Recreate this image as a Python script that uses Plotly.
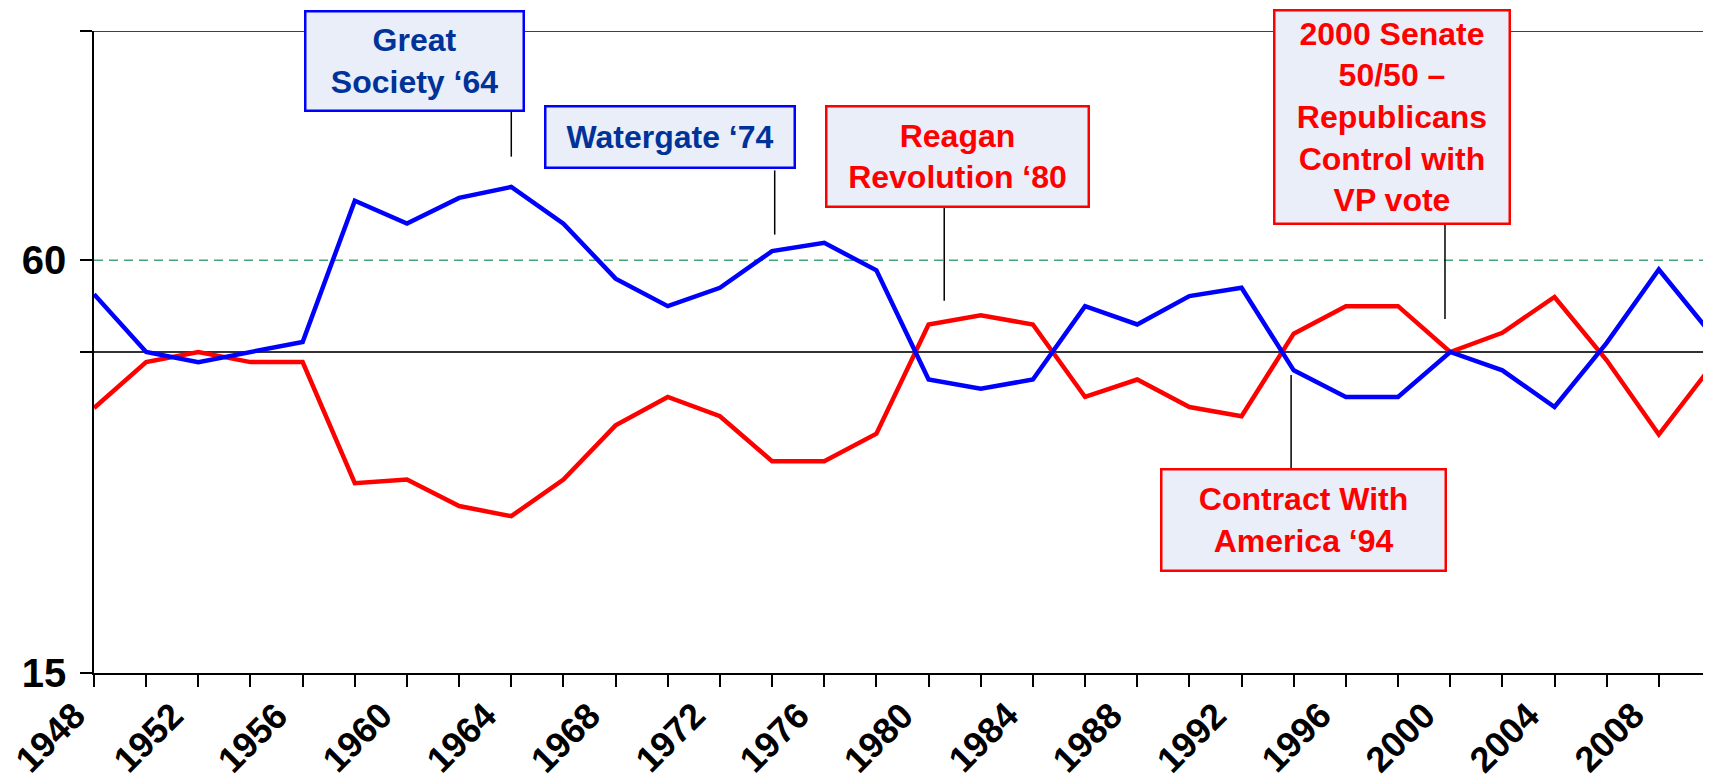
import plotly.graph_objects as go

# ---- data (Senate seat share, %) ----
years = list(range(1948, 2011, 2))
dem = [56.3, 50.0, 48.9, 50.0, 51.1, 66.5, 64.0, 66.8, 68.0, 64.0,
       58.0, 55.0, 57.0, 61.0, 61.9, 58.9, 47.0, 46.0, 47.0, 55.0,
       53.0, 56.1, 57.0, 48.0, 45.1, 45.1, 50.0, 48.0, 44.0, 51.0,
       59.0, 52.0]
rep = [43.9, 48.9, 50.0, 48.9, 48.9, 35.7, 36.1, 33.2, 32.1, 36.1,
       42.0, 45.1, 43.0, 38.1, 38.1, 41.1, 53.0, 54.0, 53.0, 45.1,
       47.0, 44.0, 43.0, 52.0, 55.0, 55.0, 50.0, 52.1, 56.0, 49.1,
       41.0, 48.4]

x_tick_vals = list(range(1948, 2011, 2))
x_label_years = list(range(1948, 2009, 4))
y_tick_vals = [15, 50, 60, 85]
y_tick_text = ["15", "", "60", ""]

FONT = "Liberation Sans, Arial, sans-serif"
BOX_BG = "#EAEEF8"
DARK_BLUE = "#003399"

fig = go.Figure()
fig.add_trace(go.Scatter(x=years, y=rep, mode="lines", name="Republicans",
                         line=dict(color="#FF0000", width=4.5), cliponaxis=True))
fig.add_trace(go.Scatter(x=years, y=dem, mode="lines", name="Democrats",
                         line=dict(color="#0000FF", width=4.5), cliponaxis=True))

# reference lines
fig.add_shape(type="line", xref="paper", yref="y", x0=0, x1=1, y0=60, y1=60,
              line=dict(color="#46A478", width=1.5, dash="9px,6px"), layer="below")
fig.add_shape(type="line", xref="paper", yref="y", x0=0, x1=1, y0=50, y1=50,
              line=dict(color="#333333", width=2), layer="below")
fig.add_shape(type="line", xref="paper", yref="y", x0=0, x1=1, y0=85, y1=85,
              line=dict(color="#000000", width=1.5), layer="below")

# callouts: (text, x, y, width, height, edge colour, text colour, leader x, leader y0, leader y1)
callouts = [
    ("Great<br>Society ‘64", 1960.28, 81.78, 216, 97, "#0000FF", DARK_BLUE, 1964.0, 76.4, 71.3),
    ("Watergate ‘74", 1970.1, 73.43, 247, 59, "#0000FF", DARK_BLUE, 1974.1, 69.8, 62.8),
    ("Reagan<br>Revolution ‘80", 1981.1, 71.31, 260, 98, "#FF0000", "#FF0000", 1980.6, 65.9, 55.6),
    ("2000 Senate<br>50/50 –<br>Republicans<br>Control with<br>VP vote", 1997.77, 75.59, 233, 211,
     "#FF0000", "#FF0000", 1999.8, 64.0, 53.6),
    ("Contract With<br>America ‘94", 1994.39, 31.73, 282, 99, "#FF0000", "#FF0000", 1993.9, 47.5, 37.1),
]
for text, cx, cy, w, h, edge, tcol, lx, ly0, ly1 in callouts:
    fig.add_shape(type="line", xref="x", yref="y", x0=lx, x1=lx, y0=ly0, y1=ly1,
                  line=dict(color="#000000", width=1.5))
    fig.add_annotation(x=cx, y=cy, xref="x", yref="y", text=text, showarrow=False,
                       xanchor="center", yanchor="middle", width=w, height=h,
                       align="center", valign="middle", bgcolor=BOX_BG,
                       bordercolor=edge, borderwidth=2.5, borderpad=0,
                       font=dict(family=FONT, size=32, color=tcol, weight="bold"))

# slanted year labels, placed under the x-axis ticks (first one nudged to stay on the page)
for yr in x_label_years:
    fig.add_annotation(x=yr, y=0, xref="x", yref="paper", text=str(yr), showarrow=False,
                       textangle=-45, xanchor="right", yanchor="top",
                       xshift=(0 if yr == x_label_years[0] else -6), yshift=-20, borderpad=0,
                       font=dict(family=FONT, size=36, color="#000", weight="bold"))

# the page body adds an 8px margin, so the figure is sized to fill the window after that offset
fig.update_layout(
    width=1703, height=774,
    margin=dict(l=86, r=0, t=23, b=109),
    paper_bgcolor="white", plot_bgcolor="white",
    showlegend=False,
    font=dict(family=FONT),
)
fig.update_xaxes(range=[1948, 2010], tickmode="array", tickvals=x_tick_vals,
                 showticklabels=False,
                 ticks="outside", ticklen=12, tickwidth=1.5, tickcolor="#000",
                 showline=True, linecolor="#000", linewidth=1.5, showgrid=False, zeroline=False,
                 automargin=False)
fig.update_yaxes(range=[15, 85], tickmode="array", tickvals=y_tick_vals, ticktext=y_tick_text,
                 ticks="outside", ticklen=12, tickwidth=1.5, tickcolor="#000",
                 showline=True, linecolor="#000", linewidth=1.5, showgrid=False, zeroline=False,
                 ticklabelstandoff=6, automargin=False,
                 tickfont=dict(family=FONT, size=40, color="#000", weight="bold"))

fig.write_html("out.html")
